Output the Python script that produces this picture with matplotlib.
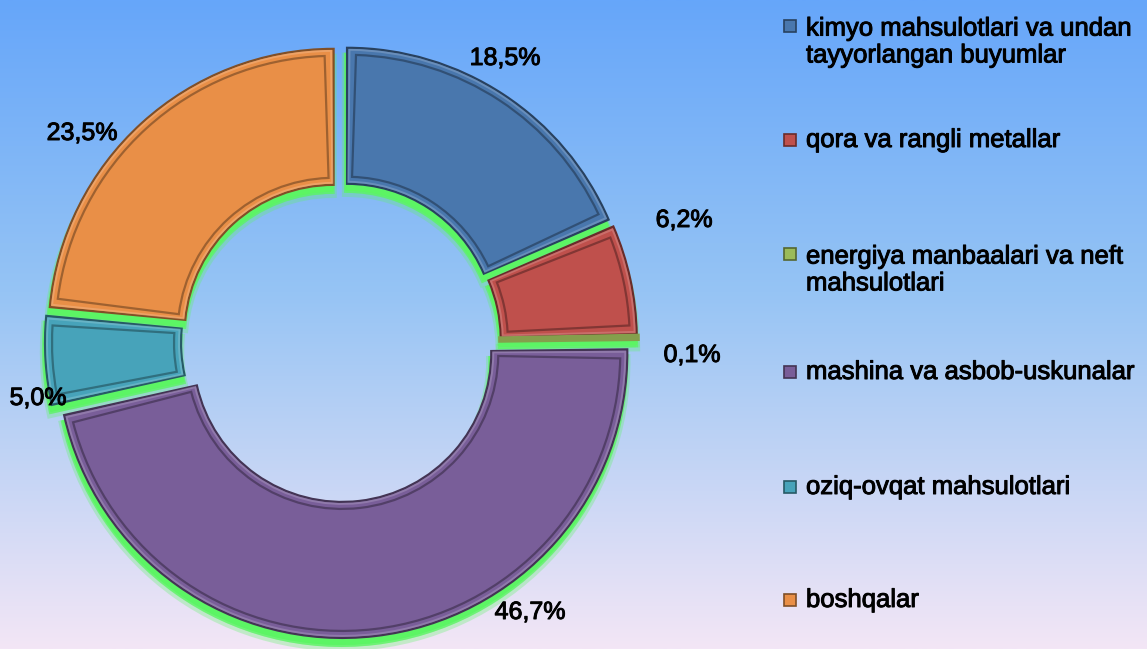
import numpy as np
import matplotlib
matplotlib.use("Agg")
import matplotlib.pyplot as plt
from matplotlib.patches import Wedge, Rectangle
from matplotlib.colors import to_rgb
import matplotlib.patheffects as pe

# ---- data ----
categories = [
    "kimyo mahsulotlari va undan\ntayyorlangan buyumlar",
    "qora va rangli metallar",
    "energiya manbaalari va neft\nmahsulotlari",
    "mashina va asbob-uskunalar",
    "oziq-ovqat mahsulotlari",
    "boshqalar",
]
values = [18.5, 6.2, 0.1, 46.7, 5.0, 23.5]
value_labels = ["18,5%", "6,2%", "0,1%", "46,7%", "5,0%", "23,5%"]

# ---- styles / layout ----
colors = ["#4977AD", "#BF504C", "#9BBB59", "#795E99", "#47A3BA", "#E98F47"]
W_PX, H_PX = 1147, 649
cx, cy = 341, H_PX - 342
R, RING = 285, 136
EXPLODE = 11
label_pos = [(505, 58), (684, 220), (692, 355), (530, 612), (38, 398), (82, 133)]
legend_y = [42, 140, 270, 372, 487, 600]
marker_y = [26, 140, 254, 372, 487, 600]
FONT = "Liberation Sans"
stroke = [pe.withStroke(linewidth=0.7, foreground="black")]


def shade(c, f):
    r, g, b = to_rgb(c)
    if f < 1:
        return (r * f, g * f, b * f)
    return (r + (1 - r) * (f - 1), g + (1 - g) * (f - 1), b + (1 - b) * (f - 1))


fig = plt.figure(figsize=(W_PX / 100, H_PX / 100), dpi=100)
ax = fig.add_axes([0, 0, 1, 1])

# background gradient
stops = np.array([[0.0, 102, 166, 250], [0.45, 150, 196, 244], [1.0, 243, 230, 246]])
t = np.linspace(0, 1, 400)
grad = np.stack([np.interp(t, stops[:, 0], stops[:, i]) for i in (1, 2, 3)], axis=1) / 255.0
ax.imshow(grad[:, None, :], extent=(0, W_PX, 0, H_PX), aspect="auto", origin="upper", zorder=0)

wedges, _ = ax.pie(
    values, colors=colors, radius=R, center=(cx, cy), startangle=90,
    counterclock=False, explode=[EXPLODE] * len(values),
    wedgeprops=dict(width=RING, linewidth=1.6), frame=True,
)

glow = "#5CF564"
for wdg, col in zip(wedges, colors):
    wdg.set_edgecolor(shade(col, 0.55))
    wdg.set_zorder(3)
    (wx, wy), r, t1, t2 = wdg.center, wdg.r, wdg.theta1, wdg.theta2
    # green glow/shadow underneath (offset downward)
    for lw, a, dy in ((6, 0.3, 9), (3, 0.75, 7), (1.2, 1.0, 6)):
        ax.add_patch(Wedge((wx - 1, wy - dy), r, t1, t2, width=RING, facecolor=glow,
                           edgecolor=glow, linewidth=lw, alpha=a, zorder=2))
    # bevel: inner inset outline
    ins = 7
    rm = r - RING / 2
    dth = np.degrees(ins / rm)
    if (t2 - t1) > 3 * dth:
        ax.add_patch(Wedge((wx, wy), r - ins, t1 + dth, t2 - dth, width=RING - 2 * ins,
                           facecolor="none", edgecolor=shade(col, 0.6), linewidth=1.6,
                           alpha=0.8, zorder=4))
        ax.add_patch(Wedge((wx, wy), r - 2, t1 + 0.5, t2 - 0.5, width=RING - 4,
                           facecolor="none", edgecolor=shade(col, 1.25), linewidth=1.4,
                           alpha=0.7, zorder=4))
    else:
        wdg.set_linewidth(4)
        wdg.set_edgecolor(shade(col, 0.85))

ax.set_xlim(0, W_PX)
ax.set_ylim(0, H_PX)
ax.set_axis_off()

# value labels
for txt, (px, py) in zip(value_labels, label_pos):
    ax.text(px, H_PX - py, txt, fontsize=18, family=FONT, ha="center", va="center",
            color="black", zorder=6, path_effects=stroke)

# legend
for cat, col, ly, my in zip(categories, colors, legend_y, marker_y):
    ax.add_patch(Rectangle((784, H_PX - my - 6), 12, 12, facecolor=col,
                           edgecolor=shade(col, 0.55), linewidth=1.2, zorder=5))
    ax.text(806, H_PX - ly, cat, fontsize=18.5, family=FONT, ha="left", va="center",
            color="black", linespacing=1.15, zorder=6, path_effects=stroke)

fig.savefig("out.png", dpi=100)
